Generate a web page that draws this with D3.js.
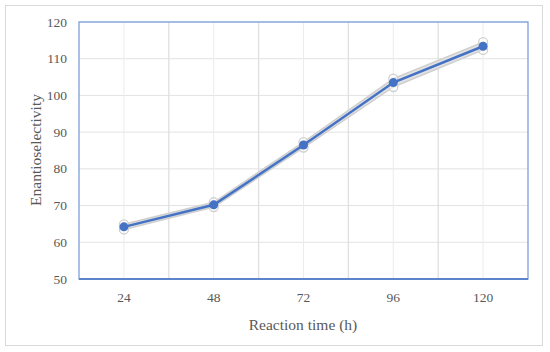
<!DOCTYPE html>
<html><head><meta charset="utf-8">
<script src="https://cdn.jsdelivr.net/npm/d3@7"></script>
<style>body{margin:0;background:#fff}svg{display:block}</style>
</head><body>
<svg id="c" width="550" height="352"></svg>
<script>
const categories = ["24","48","72","96","120"];
const values = [64.2, 70.2, 86.5, 103.5, 113.4];
const upper = [64.9, 70.9, 87.3, 104.6, 114.5];
const lower = [63.5, 69.6, 85.8, 102.3, 112.4];
const yTicks = [50,60,70,80,90,100,110,120];

const svg = d3.select("#c");
const font = "'Liberation Serif','DejaVu Serif',serif";
const m = {l:79, r:528, t:22, b:279};
svg.append("rect").attr("x",5.5).attr("y",5.5).attr("width",537).attr("height",340)
  .attr("fill","#fff").attr("stroke","#d9d9d9");

const x = d3.scaleBand().domain(categories).range([m.l,m.r]);
const y = d3.scaleLinear().domain([50,120]).range([m.b,m.t]);
const cx = d => x(d)+x.bandwidth()/2;

const g = svg.append("g");
yTicks.forEach(t => g.append("line").attr("x1",m.l).attr("x2",m.r).attr("y1",y(t)).attr("y2",y(t)).attr("stroke","#e3e3e3").attr("stroke-width",1));
categories.forEach((c,i) => {
  g.append("line").attr("x1",cx(c)).attr("x2",cx(c)).attr("y1",m.t).attr("y2",m.b).attr("stroke","#ececec");
  if(i>0) g.append("line").attr("x1",x(c)).attr("x2",x(c)).attr("y1",m.t).attr("y2",m.b).attr("stroke","#e0e0e0").attr("stroke-width",1.3);
});

g.append("rect").attr("x",m.l).attr("y",m.t).attr("width",m.r-m.l).attr("height",m.b-m.t).attr("fill","none").attr("stroke","#7f9fd9").attr("stroke-width",1.3);
g.append("line").attr("x1",m.l).attr("x2",m.r).attr("y1",m.b).attr("y2",m.b).attr("stroke","#5b84cc").attr("stroke-width",1.8);

const area = d3.area().x((d,i)=>cx(categories[i])).y0((d,i)=>y(lower[i])).y1(d=>y(d));
g.append("path").datum(upper).attr("d",area).attr("fill","#e2e2e2");
const line = d3.line().x((d,i)=>cx(categories[i])).y(d=>y(d));
[upper, lower].forEach(s => {
  g.append("path").datum(s).attr("d",line).attr("fill","none").attr("stroke","#cfcfcf").attr("stroke-width",1.5);
  g.selectAll(null).data(s).enter().append("circle").attr("cx",(d,i)=>cx(categories[i])).attr("cy",d=>y(d)).attr("r",4.5)
    .attr("fill","rgba(255,255,255,0.4)").attr("stroke","#cfcfcf").attr("stroke-width",1.3);
});
g.append("path").datum(values).attr("d",line).attr("fill","none").attr("stroke","#4472c4").attr("stroke-width",2.5);
g.selectAll(null).data(values).enter().append("circle").attr("cx",(d,i)=>cx(categories[i])).attr("cy",d=>y(d)).attr("r",4.5).attr("fill","#4472c4");

yTicks.forEach(t => svg.append("text").attr("x",67).attr("y",y(t)+4.5).attr("text-anchor","end")
  .attr("font-family",font).attr("font-size",13.5).attr("fill","#595959").text(t));
categories.forEach(c => svg.append("text").attr("x",cx(c)).attr("y",302).attr("text-anchor","middle")
  .attr("font-family",font).attr("font-size",13.5).attr("fill","#595959").text(c));
svg.append("text").attr("x",303).attr("y",330).attr("text-anchor","middle")
  .attr("font-family",font).attr("font-size",15.5).attr("fill","#595959").text("Reaction time (h)");
svg.append("text").attr("transform","translate(41,150) rotate(-90)").attr("text-anchor","middle")
  .attr("font-family",font).attr("font-size",15.5).attr("fill","#595959").text("Enantioselectivity");
</script>
</body></html>
